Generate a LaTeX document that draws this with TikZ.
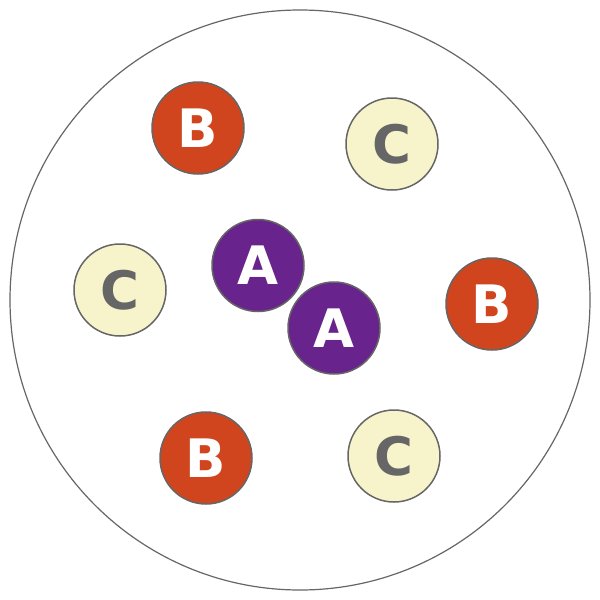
\documentclass[tikz,border=0pt]{standalone}
\usepackage{fontspec}
\setmainfont{DejaVu Sans}
\definecolor{outl}{HTML}{666666}
\definecolor{colA}{HTML}{68238C}
\definecolor{colB}{HTML}{D0451E}
\definecolor{colC}{HTML}{F7F4CC}
\tikzset{
  ball/.style={circle, draw=outl, line width=1.5pt, minimum size=92pt, inner sep=0pt,
    font=\fontsize{53}{53}\selectfont\bfseries},
  ballA/.style={ball, fill=colA, text=white},
  ballB/.style={ball, fill=colB, text=white},
  ballC/.style={ball, fill=colC, text=outl},
}
\begin{document}
\begin{tikzpicture}[x=1pt,y=-1pt]
\useasboundingbox (0,0) rectangle (600,600);
\node[circle, draw=outl, line width=1.2pt, minimum size=580pt, inner sep=0pt] (outer) at (300,300) {};
\node[ballB] (b1) at (198,128) {B};
\node[ballC] (c1) at (392,144) {C};
\node[ballA] (a1) at (258,265.5) {A};
\node[ballC] (c2) at (120,290) {C};
\node[ballB] (b2) at (492,304) {B};
\node[ballA] (a2) at (334,328) {A};
\node[ballB] (b3) at (206,458) {B};
\node[ballC] (c3) at (394,456) {C};
\end{tikzpicture}
\end{document}
